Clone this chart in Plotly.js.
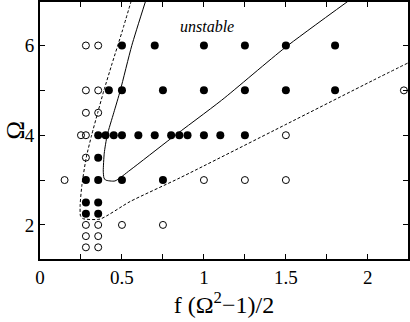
<!DOCTYPE html>
<html>
<head>
<meta charset="utf-8">
<script src="https://cdn.plot.ly/plotly-3.0.1.min.js"></script>
<style>html,body{margin:0;padding:0;background:#fff;}#chart{width:410px;height:322px;}</style>
</head>
<body>
<div id="chart"></div>
<script>
// Stable (open circles) simulation points
var stableX = [0.28,0.355, 0.28,0.355, 0.28,0.355, 2.22, 0.25,0.28, 1.5, 0.28, 0.15, 1.0,1.25,1.5, 0.28,0.355,0.5,0.75, 0.28,0.355, 0.28,0.355];
var stableY = [6,6, 5,5, 4.5,4.5, 5, 4,4, 4, 3.5, 3, 3,3,3, 2,2,2,2, 1.75,1.75, 1.5,1.5];
// Unstable (filled circles) simulation points
var unstableX = [0.5,0.7,1.0,1.25,1.5,1.8, 0.42,0.5,0.75,1.0,1.25,1.5,1.8,
  0.355,0.40,0.45,0.5,0.6,0.7,0.8,0.85,0.9,1.0,1.1,1.25,
  0.355, 0.28,0.355,0.5,0.75, 0.28,0.355, 0.28,0.355];
var unstableY = [6,6,6,6,6,6, 5,5,5,5,5,5,5,
  4,4,4,4,4,4,4,4,4,4,4,4,
  3.5, 3,3,3,3, 2.5,2.5, 2.25,2.25];
// Solid boundary curve
var solidX = [0.645,0.56,0.49,0.45,0.41,0.392,0.386,0.39,0.40,0.457,0.549,0.80,1.108,1.494,1.884];
var solidY = [7,6,5,4.5,4,3.6,3.2,3.05,3.0,2.98,3.22,3.93,4.78,5.95,7];
// Dashed boundary curve
var dashX = [0.557,0.5,0.44,0.39,0.352,0.315,0.282,0.256,0.245,0.247,0.262,0.366,0.549,0.854,1.5,2.03,2.25];
var dashY = [7,6.3,5.6,5,4.5,4,3.5,2.9,2.45,2.2,2.14,2.13,2.52,3.05,4.24,5.22,5.62];
// Tick labels
var xTickVals = [0,0.25,0.5,0.75,1,1.25,1.5,1.75,2];
var xTickText = ['0','','0.5','','1','','1.5','','2'];
var yTickVals = [2,3,4,5,6];
var yTickText = ['2','','4','','6'];

var serif = 'Liberation Serif, Times New Roman, serif';
var traces = [
  {x: solidX, y: solidY, mode: 'lines', line: {color: '#000', width: 1, shape: 'spline', smoothing: 0.6}, hoverinfo: 'skip'},
  {x: dashX, y: dashY, mode: 'lines', line: {color: '#000', width: 1, dash: '3px,2px', shape: 'spline', smoothing: 0.6}, hoverinfo: 'skip'},
  {x: stableX, y: stableY, mode: 'markers', marker: {symbol: 'circle-open', size: 7, color: '#000', line: {width: 1, color: '#000'}}},
  {x: unstableX, y: unstableY, mode: 'markers', marker: {symbol: 'circle', size: 8, color: '#000'}}
];
var axisCommon = {
  showgrid: false, zeroline: false, showline: true, linecolor: '#000', linewidth: 2,
  mirror: 'allticks', ticks: 'inside', ticklen: 5, tickwidth: 1, tickcolor: '#000',
  tickfont: {family: serif, size: 19, color: '#000'}, tickmode: 'array'
};
var layout = {
  width: 410, height: 322,
  margin: {l: 40, r: 2, t: 2, b: 63},
  paper_bgcolor: '#fff', plot_bgcolor: '#fff',
  showlegend: false,
  xaxis: Object.assign({}, axisCommon, {
    range: [0, 2.245], tickvals: xTickVals, ticktext: xTickText,
    title: {text: 'f (Ω<sup>2</sup>−1)/2', font: {family: serif, size: 24, color: '#000'}, standoff: 9}
  }),
  yaxis: Object.assign({}, axisCommon, {
    range: [1.24, 6.97], tickvals: yTickVals, ticktext: yTickText
  }),
  annotations: [
    {x: 1.02, y: 6.42, xref: 'x', yref: 'y', text: '<i>unstable</i>', showarrow: false,
      font: {family: serif, size: 16, color: '#000'}},
    {x: 0, y: 0.5, xref: 'paper', yref: 'paper', xanchor: 'center', yanchor: 'middle', xshift: -25,
      text: 'Ω', textangle: -90, showarrow: false, borderpad: 0, font: {family: serif, size: 25, color: '#000'}}
  ]
};
Plotly.newPlot('chart', traces, layout, {staticPlot: true, displayModeBar: false});
</script>
</body>
</html>
